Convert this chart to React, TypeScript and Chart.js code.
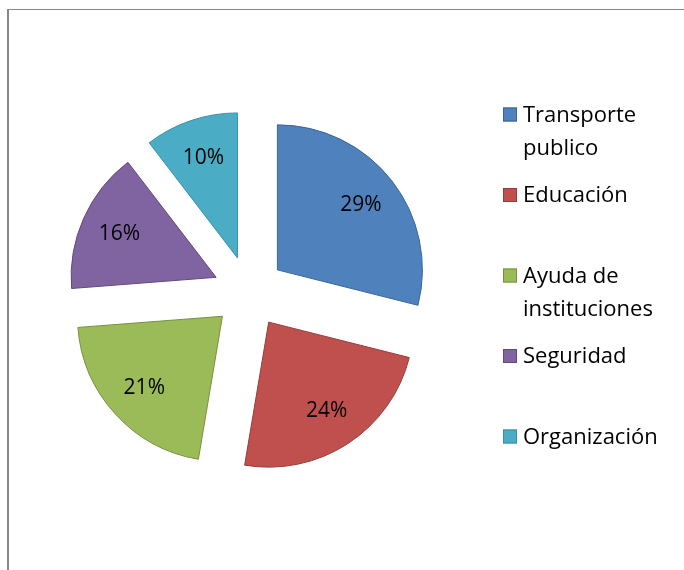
import { useEffect, useRef } from "react";
import { Chart, registerables } from "chart.js";

Chart.register(...registerables);

const categories = [
  "Transporte publico",
  "Educación",
  "Ayuda de instituciones",
  "Seguridad",
  "Organización",
];
const values = [28.9, 23.7, 21.1, 15.8, 10.4];
const percentLabels = ["29%", "24%", "21%", "16%", "10%"];
const fillColors = ["#4F81BD", "#C0504D", "#9BBB59", "#8064A2", "#4BACC6"];
const borderColors = ["#3A6596", "#943C39", "#77903F", "#5F4A7A", "#3990A8"];

const FONT = "'Open Sans', 'Liberation Sans', sans-serif";
// radial explosion distance of every slice (px)
const EXPLODE = 36;

// Draw each arc element (Chart.js's own ArcElement.draw) shifted outward along its mid-angle.
const explodePlugin = {
  id: "explodeSlices",
  beforeDatasetDraw(chart: any, args: any) {
    const ctx = chart.ctx;
    const meta = args.meta;
    meta.data.forEach((arc: any) => {
      const p = arc.getProps(["startAngle", "endAngle"], true);
      const mid = (p.startAngle + p.endAngle) / 2;
      ctx.save();
      ctx.translate(Math.cos(mid) * EXPLODE, Math.sin(mid) * EXPLODE);
      arc.draw(ctx, chart.chartArea);
      ctx.restore();
    });
    return false;
  },
};

const sliceLabelPlugin = {
  id: "sliceLabels",
  afterDatasetsDraw(chart: any) {
    const ctx = chart.ctx;
    const meta = chart.getDatasetMeta(0);
    ctx.save();
    ctx.font = `21px ${FONT}`;
    ctx.fillStyle = "#000";
    ctx.textAlign = "center";
    ctx.textBaseline = "middle";
    meta.data.forEach((arc: any, i: number) => {
      const p = arc.getProps(["x", "y", "startAngle", "endAngle", "outerRadius"], true);
      const mid = (p.startAngle + p.endAngle) / 2;
      const d = EXPLODE + p.outerRadius * 0.73;
      ctx.fillText(percentLabels[i], p.x + Math.cos(mid) * d, p.y + Math.sin(mid) * d);
    });
    ctx.restore();
  },
};

function wrapText(ctx: CanvasRenderingContext2D, text: string, maxWidth: number): string[] {
  const words = text.split(" ");
  const lines: string[] = [];
  let cur = "";
  for (const w of words) {
    const test = cur ? cur + " " + w : w;
    if (ctx.measureText(test).width > maxWidth && cur) {
      lines.push(cur);
      cur = w;
    } else {
      cur = test;
    }
  }
  if (cur) lines.push(cur);
  return lines;
}

const legendPlugin = {
  id: "customLegend",
  afterDraw(chart: any) {
    const ctx = chart.ctx;
    const labels: string[] = chart.data.labels;
    const ds = chart.data.datasets[0];
    const boxX = 503;
    const textX = 523;
    const firstCenter = 114.5;
    const pitch = 80.5;
    const lineH = 33;
    ctx.save();
    ctx.font = `22px ${FONT}`;
    ctx.textAlign = "left";
    ctx.textBaseline = "middle";
    labels.forEach((lab, i) => {
      const cy = firstCenter + i * pitch;
      ctx.fillStyle = ds.backgroundColor[i];
      ctx.fillRect(boxX, cy - 7, 14, 14);
      ctx.strokeStyle = ds.borderColor[i];
      ctx.lineWidth = 1;
      ctx.strokeRect(boxX + 0.5, cy - 6.5, 13, 13);
      ctx.fillStyle = "#000";
      const lines = wrapText(ctx, lab, 150);
      lines.forEach((ln, j) => {
        ctx.fillText(ln, textX, cy + j * lineH + 1);
      });
    });
    ctx.restore();
  },
};

export default function App() {
  const canvasRef = useRef<HTMLCanvasElement | null>(null);

  useEffect(() => {
    if (!canvasRef.current) return;
    const chart = new Chart(canvasRef.current, {
      type: "pie",
      data: {
        labels: categories,
        datasets: [
          {
            data: values,
            backgroundColor: fillColors,
            borderColor: borderColors,
            borderWidth: 1,
            offset: 0,
            hoverOffset: 0,
          },
        ],
      },
      options: {
        responsive: false,
        animation: false,
        devicePixelRatio: 1,
        events: [],
        layout: {
          padding: { left: 103.5, top: 146.5, right: 289.5, bottom: 132.5 },
        },
        plugins: {
          legend: { display: false },
          tooltip: { enabled: false },
          title: { display: false },
        },
      } as any,
      plugins: [explodePlugin, sliceLabelPlugin, legendPlugin],
    });
    return () => chart.destroy();
  }, []);

  return (
    <div
      style={{
        position: "fixed",
        left: 0,
        top: 0,
        width: 684,
        height: 570,
        overflow: "hidden",
        background: "#fff",
      }}
    >
      <div
        style={{
          position: "absolute",
          left: 7,
          top: 9,
          width: 800,
          height: 800,
          borderLeft: "2px solid #888",
          borderTop: "1px solid #888",
        }}
      />
      <canvas
        ref={canvasRef}
        width={684}
        height={570}
        style={{ position: "absolute", left: 0, top: 0, width: 684, height: 570 }}
      />
    </div>
  );
}
